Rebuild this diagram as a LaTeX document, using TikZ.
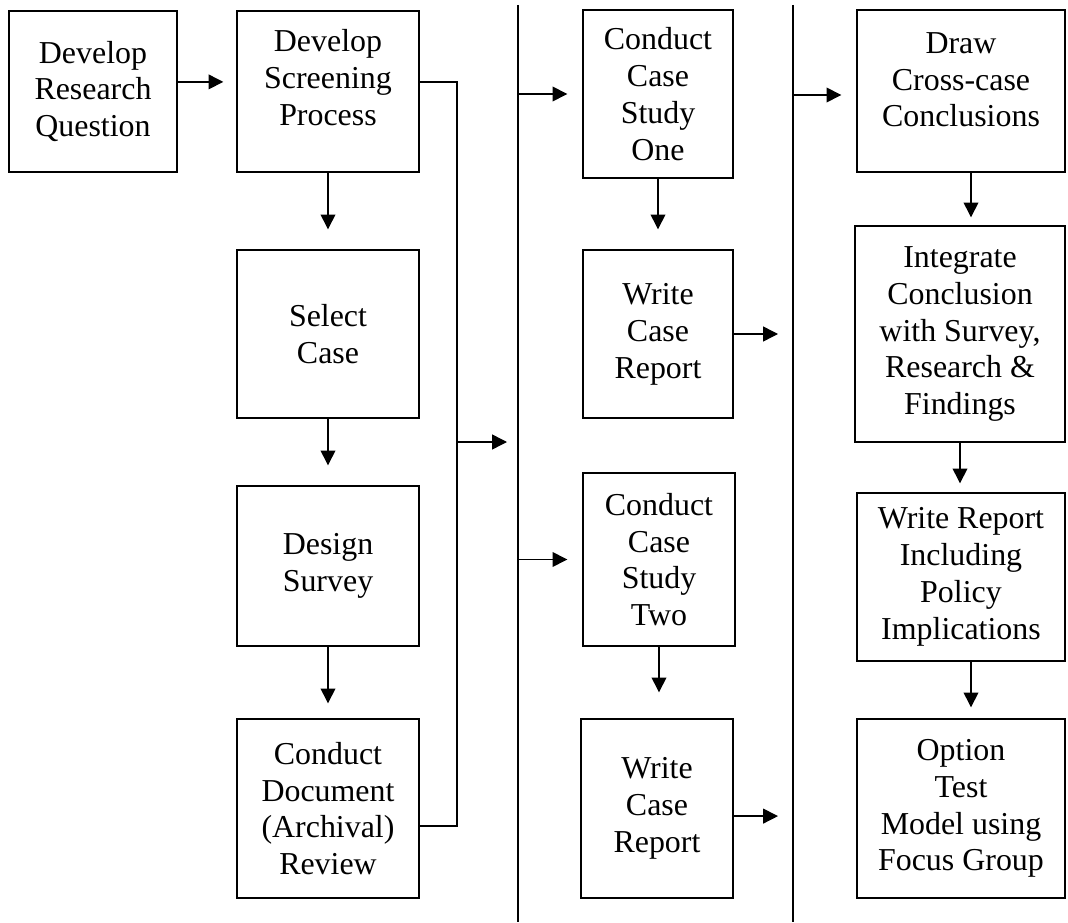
\documentclass[tikz,border=0pt]{standalone}
\usepackage{fontspec}
\setmainfont{Liberation Serif}
\usetikzlibrary{arrows.meta,positioning,calc}

\begin{document}
\begin{tikzpicture}[x=1cm,y=1cm,font=\fontsize{22.7}{26.2}\selectfont,>={Triangle[length=10.5pt,width=10.5pt]},
    blk/.style={draw=black, line width=1pt, align=center, inner sep=1pt},
    flow/.style={->, line width=1pt},
    rule/.style={line width=1pt}]
  \useasboundingbox (0,0) rectangle (26.7,23.05);
  % ---------- dividers ----------
  \coordinate (l1a) at (12.95,22.925);
  \coordinate (l1b) at (12.95,0);
  \coordinate (l2a) at (19.825,22.925);
  \coordinate (l2b) at (19.825,0);
  \coordinate (split) at (11.425,12.0);
  \draw[rule] (l1a) -- (l1b);
  \draw[rule] (l2a) -- (l2b);
  % ---------- design ----------
  \node[blk, minimum width=4.2cm, minimum height=4.025cm]  (resq)   at (2.325,20.7625) {Develop\\Research\\Question};
  \node[blk, minimum width=4.55cm, minimum height=4.025cm] (screen) at (8.2,20.7625)   {Develop\\Screening\\Process\\[-14pt]\strut};
  \node[blk, minimum width=4.55cm, minimum height=4.2cm]   (select) at (8.2,14.7)      {Select\\Case};
  \node[blk, minimum width=4.55cm, minimum height=4.0cm]   (survey) at (8.2,8.9)       {Design\\Survey};
  \node[blk, minimum width=4.55cm, minimum height=4.475cm] (review) at (8.2,2.8375)    {Conduct\\Document\\(Archival)\\Review};
  % ---------- case studies ----------
  \node[blk, minimum width=3.75cm, minimum height=4.2cm]   (study1)  at (16.45,20.7)    {Conduct\\Case\\Study\\One};
  \node[blk, minimum width=3.75cm, minimum height=4.2cm]   (report1) at (16.45,14.7)    {Write\\Case\\Report};
  \node[blk, minimum width=3.8cm, minimum height=4.325cm]  (study2)  at (16.475,9.0625) {Conduct\\Case\\Study\\Two};
  \node[blk, minimum width=3.8cm, minimum height=4.475cm]  (report2) at (16.425,2.8375) {Write\\Case\\Report};
  % ---------- cross-case ----------
  \node[blk, minimum width=5.2cm, minimum height=4.05cm]   (cross)  at (24.025,20.775) {Draw\\Cross-case\\Conclusions\\[-18pt]\strut};
  \node[blk, minimum width=5.25cm, minimum height=5.4cm]   (integ)  at (24.0,14.7)     {Integrate\\Conclusion\\with Survey,\\Research \&\\Findings};
  \node[blk, minimum width=5.2cm, minimum height=4.2cm]    (policy) at (24.025,8.625)  {Write Report\\Including\\Policy\\Implications};
  \node[blk, minimum width=5.2cm, minimum height=4.475cm]  (option) at (24.025,2.8375) {Option\\Test\\Model using\\Focus Group};
  % ---------- signals ----------
  \draw[flow, shorten >=0.325cm] ([yshift=0.24cm]resq.east) -- ([yshift=0.24cm]resq.east -| screen.west);
  \draw[flow, shorten >=0.5cm] (screen.south) -- (screen.south |- select.north);
  \draw[flow, shorten >=0.5cm] (select.south) -- (select.south |- survey.north);
  \draw[flow, shorten >=0.375cm] (survey.south) -- (survey.south |- review.north);
  \draw[rule] ([yshift=0.24cm]screen.east) -| (split) |- ([yshift=-0.44cm]review.east);
  \draw[flow, shorten >=0.275cm] (split) -- (split -| l1a);
  \draw[flow, shorten >=0.375cm] (study1.west -| l1a) -- (study1.west);
  \draw[flow, shorten >=0.375cm] (study2.west -| l1a) -- (study2.west);
  \draw[flow, shorten >=0.5cm] (study1.south) -- (study1.south |- report1.north);
  \draw[flow, shorten >=0.65cm] (study2.south) -- (study2.south |- report2.north);
  \draw[flow, shorten >=0.375cm] (report1.east) -- (report1.east -| l2a);
  \draw[flow, shorten >=0.375cm] ([yshift=-0.19cm]report2.east) -- ([yshift=-0.19cm]report2.east -| l2a);
  \draw[flow, shorten >=0.375cm] ([yshift=-0.1cm]cross.west -| l2a) -- ([yshift=-0.1cm]cross.west);
  \draw[flow, shorten >=0.2cm] ([xshift=0.25cm]cross.south) -- ([xshift=0.25cm]cross.south |- integ.north);
  \draw[flow, shorten >=0.225cm] (integ.south) -- (integ.south |- policy.north);
  \draw[flow, shorten >=0.275cm] ([xshift=0.25cm]policy.south) -- ([xshift=0.25cm]policy.south |- option.north);
\end{tikzpicture}
\end{document}
